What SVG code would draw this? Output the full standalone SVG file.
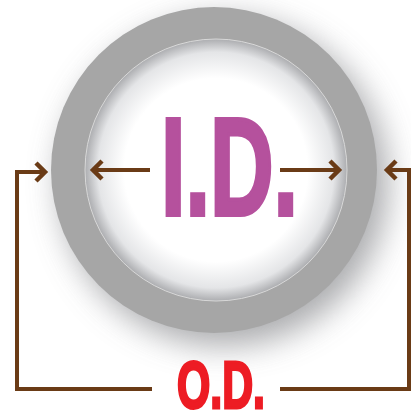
<svg xmlns="http://www.w3.org/2000/svg" width="411" height="414" viewBox="0 0 411 414">
<defs>
<filter id="sh" x="-30%" y="-30%" width="160%" height="160%"><feGaussianBlur stdDeviation="16"/></filter>
<radialGradient id="inner" cx="0.5" cy="0.5" r="0.5">
<stop offset="0" stop-color="#ffffff"/>
<stop offset="0.7" stop-color="#ffffff"/>
<stop offset="0.9" stop-color="#e4e5e7"/>
<stop offset="1" stop-color="#acadb0"/>
</radialGradient>
<style>
.ln{fill:none;stroke:#6a3b16;stroke-width:4;stroke-linecap:butt}
.hd{fill:none;stroke:#6a3b16;stroke-width:4.5;stroke-linejoin:miter}
.t{font-family:"Liberation Sans",Arial,sans-serif;font-weight:bold}
</style>
</defs>
<g id="ring">
<circle cx="224" cy="182" r="164" fill="#8e8f93" filter="url(#sh)" opacity="0.75"/>
<circle cx="214" cy="170" r="163" fill="#a6a6a6"/>
<circle cx="216" cy="170" r="131" fill="url(#inner)" stroke="#d8d8d8" stroke-width="1"/>
</g>
<g id="connectors">
<polyline class="ln" points="17,388 17,172 44,172"/>
<polyline class="hd" points="36,163 45,172 36,181"/>
<polyline class="ln" points="409,390 409,170 389,170"/>
<polyline class="hd" points="396,161 387,170 396,179"/>
<line class="ln" x1="15" y1="389" x2="152" y2="389"/>
<line class="ln" x1="280" y1="389" x2="411" y2="389"/>
<line class="ln" x1="94" y1="170" x2="150" y2="170"/>
<polyline class="hd" points="102,161 93,170 102,179"/>
<line class="ln" x1="280" y1="170" x2="338" y2="170"/>
<polyline class="hd" points="330,161 339,170 330,179"/>
</g>
<g id="id-label">
<text class="t" x="161" y="215" font-size="139" fill="#b5519d" stroke="#b5519d" stroke-width="4" textLength="137" lengthAdjust="spacingAndGlyphs">I.D.</text>
</g>
<g id="od-label">
<text class="t" x="177" y="408" font-size="66" fill="#ed1c24" stroke="#ed1c24" stroke-width="3" textLength="88" lengthAdjust="spacingAndGlyphs">O.D.</text>
</g>
</svg>
